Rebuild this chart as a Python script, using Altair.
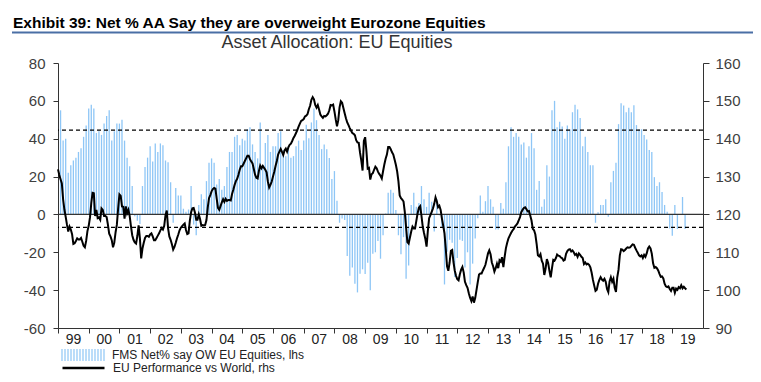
import altair as alt
import pandas as pd

FONT = "Liberation Sans, Arial, sans-serif"
HEAD_FONT = "Liberation Sans, Arial, sans-serif"
BLUE = "#8ec6f6"

header_text = "Exhibit 39: Net % AA Say they are overweight Eurozone Equities"
subtitle_text = "Asset Allocation: EU Equities"
bar_label = "FMS Net% say OW EU Equities, lhs"
line_label = "EU Performance vs World, rhs"

years = list(range(1999, 2020))
year_labels = ["99", "00", "01", "02", "03", "04", "05", "06", "07", "08", "09",
               "10", "11", "12", "13", "14", "15", "16", "17", "18", "19"]
left_ticks = [-60, -40, -20, 0, 20, 40, 60, 80]
right_ticks = [90, 100, 110, 120, 130, 140, 150, 160]
band_levels = [44.5, -6.8]

# monthly FMS net % (lhs), Feb 1999 onwards
fms_values = [
    55, 39, 40, 22, 26, 28.5, 30, 33, 35, 41, 47,
    56, 58, 56, 43, 44, 42, 48, 52, 55, 39, 44, 48,
    48, 50, 39, 30, 25.5, 15, -1, -3.3, -5, 15, 25, 30,
    36, 28, 37.5, 33, 37.5, 36.6, 28.5, 27.6, 17, -4.4, 14, 10,
    10, 3, 1.4, 2.6, 15, -5.3, -11, 5, 10.6, 8, 17.6, 27.3,
    29.6, 27.3, 15.8, 18.7, 13, 15, 25, 33, 33, 41, 42, 36.6,
    40, 39, 45, 46, 37, 33, 29.6, 48.6, 26, 37.7, 42, 33,
    36, 36, 43, 44, 34, 30.8, 36, 30, 30.8, 36, 39, 34,
    39, 47.4, 40.3, 48.6, 56, 49.8, 42, 34.5, 37, 34.5, 29.8, 18.7,
    22.9, 7.2, -4.4, -2.1, -3, -22, -32.4, -28, -36.6, -41.2, -31.3, -29,
    -31.5, -25.5, -40, -20.8, -20, -14, -23.4, -11, 0.5, 11.4, 13, 11.4,
    2.3, -11, -21, -12, -34, -27, 5, 11.4, 4, 6, 15, 8,
    4, 11.4, 6.7, -9, 8, -0.5, -7, -37, -19.7, -13.4, -15, -33,
    -23, -13.4, -14, -28, -20, -37, -26, -12.7, -2, 10, 1.4, 7,
    15, 8, 4, -8, -8, 6, 3, 17, 36, 46, 41, 43,
    41, 37, 38, 30, 36, 43, 35, 13, 17.6, 4, 8, 26,
    20, 55, 60, 46, 49, 46.5, 40, 47, 45, 54, 58, 55.5,
    51, 36, 41, 33, 26, 26, -4.4, 1.2, 5, 5, 8, -1.2,
    17, 23, 27.3, 47.7, 58.7, 57.5, 54, 56.3, 54, 57.7, 47.2, 45,
    45, 42, 39.6, 34, 33, 19.7, 15, 17, 11.8, 5, 1.4, -7.4,
    -11.3, 5, -7.7, 0, 9.2, -7.7,
]

# semi-monthly EU performance vs world (rhs), Jan 1999 onwards
perf_values = [
    131.9, 130.4, 129.3, 128.2, 124, 121.3, 119.4, 117.3, 115.5, 116.8, 116, 114.8,
    112.2, 112.4, 113, 113.7, 113.4, 113.4, 113.8, 112.8, 111.7, 111.3, 113, 115.6,
    117, 119.2, 123, 125.7, 125.6, 119.6, 121.2, 119, 119.2, 118.6, 121.6, 121.2,
    119.6, 119.6, 119.3, 117.3, 114.9, 114.2, 113.2, 111.3, 112.6, 115.3, 117.3, 121.6,
    125.3, 124.9, 122.1, 122, 118.9, 122.1, 120.3, 121.2, 119.6, 116.9, 114.5, 113.3,
    112.6, 112.3, 114.3, 117.1, 113.7, 108.4, 111, 112.5, 113.8, 114.3, 114.3, 114.1,
    114.7, 115, 114.2, 113.2, 113.2, 113.8, 114.4, 115, 115.8, 116.4, 116, 117,
    119.8, 121, 116.4, 114.2, 113.3, 112.1, 110.7, 111.4, 112.5, 113.7, 114.7, 115.8,
    116.5, 116.9, 117.3, 117.6, 115.9, 114.8, 115, 118.3, 120.6, 121.6, 121.7, 120.5,
    118.6, 118.6, 120, 118.8, 117, 117.2, 117.1, 117.2, 118.5, 121.8, 124.3, 125.1,
    126.1, 126.7, 127, 126.8, 124.2, 121.7, 121.2, 122.2, 123.2, 124, 123.3, 124.1,
    123.6, 123.8, 123.8, 123.7, 125.4, 126.5, 127.8, 128.8, 129.4, 130.5, 131.8, 132.7,
    132.7, 133.4, 134.1, 134.8, 135.5, 135.5, 134.6, 134, 133.5, 132, 130.5, 129.7,
    129.5, 131.5, 132.9, 132.2, 132.8, 132.3, 131.8, 131.1, 128.7, 127.1, 127.8, 128.7,
    130, 131.3, 132.8, 134.1, 135.8, 136.6, 137.3, 136.5, 135.7, 136.9, 137.4, 136.6,
    137.7, 138.4, 138.7, 139.4, 140.2, 140.8, 141.5, 142.3, 143.2, 144, 144.7, 144.9,
    145.2, 145.9, 146.1, 146.5, 147.8, 148.7, 150.3, 151, 150.4, 148.9, 148.2, 148.9,
    147.7, 146.4, 145.9, 145.5, 146, 145.9, 146.2, 146.6, 147.5, 148.9, 148.8, 149,
    147.2, 145.1, 143.3, 144.9, 148.3, 149.9, 149.5, 148.1, 146.7, 145.4, 144.3, 143.6,
    142.8, 142.1, 141.5, 141.3, 140.9, 139.6, 139, 138.9, 136.3, 134.2, 131.6, 139.4,
    140.4, 136.7, 132.1, 132.3, 129.2, 130.6, 130.9, 131.8, 132.6, 132.2, 131.3, 130.7,
    130.2, 129.5, 131.4, 133.2, 134.7, 135.8, 137.8, 137.8, 137.2, 136.4, 135.8, 134.5,
    133.1, 131.4, 128.8, 125, 124.3, 123.9, 123.4, 120.6, 116.6, 112.7, 112.3, 113.9,
    115.5, 116.8, 116.3, 116.3, 118.3, 120.3, 121.8, 122.2, 119.7, 116.8, 115.1, 113.6,
    111.5, 115.7, 119, 119.8, 120.7, 121.6, 122.8, 124.5, 123.5, 121.9, 122.3, 121.2,
    118.9, 117, 115, 110.9, 106.3, 105.1, 107.3, 110.4, 110.6, 107.5, 105.2, 103.8,
    102.9, 102.6, 104.2, 105.4, 106.1, 104.7, 102.2, 101.3, 100.6, 99.2, 98, 97.1,
    98.3, 96.7, 97.9, 100, 102.1, 104.1, 104.4, 104.4, 105.2, 105.9, 106.7, 108.2,
    109.7, 110.5, 109.5, 107.3, 106.3, 104.9, 105.8, 107, 105.8, 107.9, 107.5, 108.7,
    106.1, 108.8, 111.1, 112.5, 113.7, 114.4, 115.1, 115.7, 116.1, 116.8, 117.2, 117.6,
    118.4, 119.3, 120.6, 121.2, 121.7, 121.9, 121.4, 120.8, 120.9, 119.7, 118.4, 116.2,
    115.8, 114.7, 112.2, 109.2, 108.9, 109.5, 107.8, 107, 104, 105.7, 108.2, 107.2,
    105.1, 103.4, 105.8, 108, 107.8, 108.4, 109.4, 109.1, 109, 108.6, 108.4, 107.8,
    108, 109.6, 110.3, 110.7, 110.8, 110.2, 110.5, 110, 109.3, 109.6, 108.8, 109.7,
    109.3, 108.8, 108.5, 106.9, 107.3, 106.8, 107, 106.7, 106, 104.6, 102.7, 101.2,
    99.8, 100.1, 101.7, 102.7, 103.4, 102.8, 102.5, 103, 102.2, 100.3, 99.5, 102.3,
    103.4, 102.2, 103, 100.6, 99.5, 103.4, 105.4, 109.2, 110.8, 110.7, 110.3, 110.6,
    111, 111.3, 111.2, 111.3, 111.7, 112.1, 112, 111.2, 110.5, 109.9, 109.2, 108.9,
    109.2, 108.5, 109.3, 108.8, 109.7, 111, 111.5, 111, 109.6, 107.1, 105.9, 106.1,
    105.8, 105.2, 104.3, 103.5, 103.6, 103.1, 101.7, 101, 100.8, 101, 100.3, 99.8,
    100.6, 100.6, 99.3, 100.4, 100.1, 100.8, 100.5, 101.3, 100.5, 100.9, 100.5, 100.2,
]

bar_df = pd.DataFrame({"t": [1999 + (i + 1) / 12 for i in range(len(fms_values))],
                       "v": fms_values, "s": bar_label})
line_df = pd.DataFrame({"t": [1999 + i / 24 for i in range(len(perf_values))],
                        "p": perf_values, "s": line_label})
band_df = pd.DataFrame({"level": band_levels})
zero_df = pd.DataFrame({"zero": [0]})
one_df = pd.DataFrame({"k": [0]})

label_list = "[" + ",".join(f"'{s}'" for s in year_labels) + "]"
x_enc = alt.X(
    "t:Q",
    scale=alt.Scale(domain=[1999, 2020], nice=False, zero=False),
    axis=alt.Axis(values=years, labelExpr=f"{label_list}[datum.value - 1999]",
                  labelOffset=15, labelFlush=False, labelOverlap=False, labelBound=False,
                  tickSize=5, labelPadding=-1, grid=False, title=None,
                  domainColor="#333", tickColor="#333", labelColor="#222",
                  labelFont=FONT, labelFontSize=14),
)

left_scale = alt.Scale(domain=[-60, 80], nice=False, zero=False)
left_axis = alt.Axis(values=left_ticks, labelExpr="toString(datum.value)", grid=False,
                     title=None, tickSize=5, labelPadding=8, domainColor="#333",
                     tickColor="#333", labelColor="#404040", labelFont=FONT,
                     labelFontSize=15)
right_scale = alt.Scale(domain=[90, 160], nice=False, zero=False)
right_axis = alt.Axis(values=right_ticks, orient="right", grid=False, title=None,
                      tickSize=6, labelPadding=6, domainColor="#333", tickColor="#333",
                      labelColor="#404040", labelFont=FONT, labelFontSize=15)

stripe_path = " ".join(f"M{-1 + i * 2 / 14:.3f},-0.29V0.29" for i in range(15))

LEG_FONT_SIZE = 12

bars = alt.Chart(bar_df).mark_rule(strokeWidth=1.3).encode(
    x=x_enc,
    y=alt.Y("v:Q", scale=left_scale, axis=left_axis),
    y2=alt.datum(0),
    color=alt.Color("s:N", scale=alt.Scale(domain=[bar_label], range=[BLUE]),
                    legend=alt.Legend(orient="none", legendX=3, legendY=270,
                                      symbolType=stripe_path, symbolSize=1764,
                                      symbolStrokeWidth=1.2, labelFont=FONT,
                                      labelFontSize=LEG_FONT_SIZE, labelColor="#222",
                                      labelOffset=7, labelLimit=0, padding=0,
                                      title=None)),
)

zero_rule = alt.Chart(zero_df).mark_rule(color="#333", strokeWidth=1.2).encode(
    y=alt.Y("zero:Q", scale=left_scale, axis=left_axis)
)

bands = alt.Chart(band_df).mark_rule(color="#000", strokeWidth=1.2, strokeDash=[4, 3]).encode(
    y=alt.Y("level:Q", scale=left_scale, axis=left_axis)
)

header = alt.Chart(one_df).mark_text(
    text=header_text, align="left", baseline="alphabetic", font=HEAD_FONT,
    fontWeight="bold", fontSize=15.5, color="#000"
).encode(x=alt.value(-45), y=alt.value(-35))

underline = alt.Chart(one_df).mark_rule(color="#4a6fa5", strokeWidth=2).encode(
    x=alt.value(-46), x2=alt.value(699), y=alt.value(-30.5)
)

subtitle = alt.Chart(one_df).mark_text(
    text=subtitle_text, align="center", baseline="alphabetic", font=FONT,
    fontSize=18, color="#333"
).encode(x=alt.value(279), y=alt.value(-15.5))

left = alt.layer(bars, zero_rule, bands, header, underline, subtitle)

line = alt.Chart(line_df).mark_line(strokeWidth=2).encode(
    x=x_enc,
    y=alt.Y("p:Q", scale=right_scale, axis=right_axis),
    color=alt.Color("s:N", scale=alt.Scale(domain=[line_label], range=["#000"]),
                    legend=alt.Legend(orient="none", legendX=3, legendY=282.5,
                                      symbolType="stroke", symbolSize=1764,
                                      symbolStrokeWidth=2.5, labelFont=FONT,
                                      labelFontSize=LEG_FONT_SIZE, labelColor="#222",
                                      labelOffset=7, labelLimit=0, padding=0,
                                      title=None)),
)

chart = alt.layer(left, line).resolve_scale(y="independent", color="independent").properties(
    width=645, height=265,
    padding={"left": 50, "top": 55, "right": 50, "bottom": 46},
    autosize=alt.AutoSizeParams(type="none"),
).configure_view(strokeWidth=0)

chart.save("out.html", embed_options={"renderer": "svg", "actions": False})
